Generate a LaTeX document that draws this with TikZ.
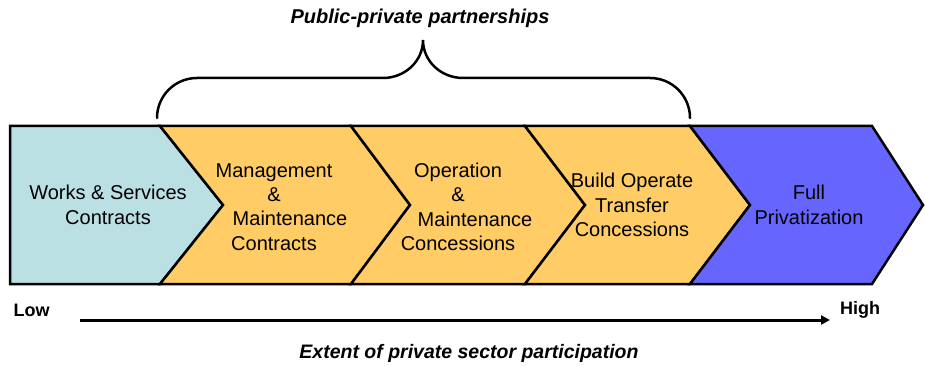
\documentclass[tikz,border=0pt]{standalone}
\usepackage{fontspec}
\setmainfont{Liberation Sans}
\usetikzlibrary{arrows.meta}
\definecolor{lblue}{HTML}{BBE0E3}
\definecolor{lorange}{HTML}{FFCC66}
\definecolor{lviolet}{HTML}{6666FF}
\tikzset{
  chev/.style={draw=black, line width=2.5pt, line join=miter},
  lbl/.style={font=\fontsize{20}{24.3}\selectfont, align=center, inner sep=0pt},
  ital/.style={font=\fontsize{19.5}{23}\selectfont\bfseries\itshape, inner sep=0pt},
  ends/.style={font=\fontsize{18}{21}\selectfont\bfseries, inner sep=0pt},
}
\begin{document}
\begin{tikzpicture}[x=1pt,y=-1pt]
\useasboundingbox (0,0) rectangle (925,366);
% chevrons
\draw[chev, fill=lblue] (10,126) -- (160,126) -- (223,205) -- (160,284) -- (10,284) -- cycle;
\draw[chev, fill=lorange] (160,126) -- (351,126) -- (410,205) -- (351,284) -- (160,284) -- (223,205) -- cycle;
\draw[chev, fill=lorange] (351,126) -- (525,126) -- (585,205) -- (525,284) -- (351,284) -- (410,205) -- cycle;
\draw[chev, fill=lorange] (525,126) -- (690,126) -- (750,205) -- (690,284) -- (525,284) -- (585,205) -- cycle;
\draw[chev, fill=lviolet] (690,126) -- (872,126) -- (923,205) -- (872,284) -- (690,284) -- (750,205) -- cycle;
% labels
\node[lbl] (t1) at (108,205) {Works \& Services\\Contracts};
\node[lbl] (t2) at (274,207) {Management\\\&\\\hspace*{32pt}Maintenance\\Contracts};
\node[lbl] (t3) at (458,207) {Operation\\\&\\\hspace*{34pt}Maintenance\\Concessions};
\node[lbl] (t4) at (632,205) {Build Operate\\Transfer\\Concessions};
\node[lbl] (t5) at (809,205) {Full\\Privatization};
% brace
\draw[line width=2.5pt, line cap=round] (157,118) to[out=90,in=180] (197,78) -- (383,78) to[out=0,in=-90] (423,40)
  to[out=-90,in=180] (463,78) -- (650,78) to[out=0,in=90] (690,118);
\node[ital, font=\fontsize{20}{23}\selectfont\bfseries\itshape] (ppp) at (420,18) {Public-private partnerships};
% axis
\node[ends] (low) at (31.5,310) {Low};
\node[ends] (high) at (860,310) {High};
\coordinate (as) at (80,320);
\coordinate (ae) at (830,320);
\draw[line width=3pt, -{Triangle[length=9pt,width=9pt]}] (as) -- (ae);
\node[ital] (ext) at (469,353) {Extent of private sector participation};
\end{tikzpicture}
\end{document}
